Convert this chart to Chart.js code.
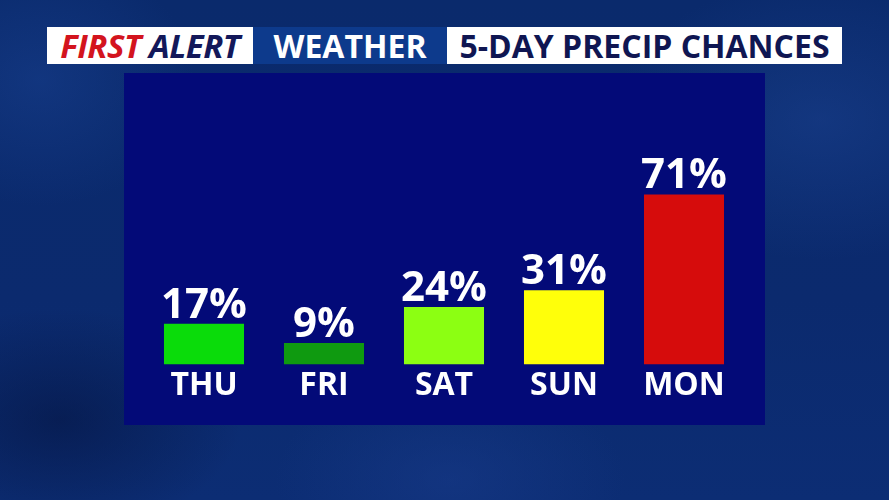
<!DOCTYPE html>
<html>
<head>
<meta charset="utf-8">
<script src="https://cdn.jsdelivr.net/npm/chart.js@4"></script>
<style>
  html, body { margin: 0; padding: 0; }
  body {
    width: 889px; height: 500px; overflow: hidden; position: relative;
    font-family: "Open Sans", "Noto Sans", sans-serif;
    background:
      radial-gradient(ellipse 260px 160px at 60px 420px, rgba(4,18,60,0.55), rgba(4,18,60,0) 70%),
      radial-gradient(ellipse 300px 200px at 820px 120px, rgba(30,70,150,0.45), rgba(30,70,150,0) 70%),
      radial-gradient(ellipse 250px 150px at 450px 480px, rgba(25,60,140,0.5), rgba(25,60,140,0) 70%),
      radial-gradient(ellipse 220px 180px at 40px 80px, rgba(25,65,145,0.5), rgba(25,65,145,0) 70%),
      linear-gradient(180deg, #0a2a6c 0%, #0b2a6e 60%, #0c2d74 100%);
  }
  .hdr { position: absolute; top: 27px; height: 37px; display: flex; align-items: center;
         font-weight: 700; font-size: 32px; white-space: nowrap; }
  #fa { left: 47px; width: 206px; background: #fff; justify-content: center; font-style: italic; font-size: 33px; letter-spacing: -0.5px; }
  #fa .r { color: #d3141e; margin-right: 8px; }
  #fa .n { color: #13185a; }
  #wx { left: 253px; width: 194px; background: #0d3a8c; color: #fff; justify-content: center; }
  #pc { left: 447px; width: 395px; background: #fff; color: #0f1652; justify-content: center; }
  #panel { position: absolute; left: 124px; top: 73px; width: 641px; height: 352px; background: #030a78; }
</style>
</head>
<body>
<div class="hdr" id="fa"><span class="r">FIRST</span><span class="n">ALERT</span></div>
<div class="hdr" id="wx">WEATHER</div>
<div class="hdr" id="pc">5-DAY PRECIP CHANCES</div>
<div id="panel"><canvas id="precipChart" width="641" height="352"></canvas></div>
<script>
// data
var days = ["THU", "FRI", "SAT", "SUN", "MON"];
var chances = [17, 9, 24, 31, 71];
var barColors = ["#0adc0a", "#0f9a10", "#8cff12", "#ffff0a", "#d60c0c"];

// percent labels above each bar
var valueLabels = {
    id: 'valueLabels',
    afterDatasetsDraw: function(chart) {
        var ctx = chart.ctx;
        var meta = chart.getDatasetMeta(0);
        ctx.save();
        ctx.fillStyle = '#ffffff';
        ctx.font = 'bold 42px "Open Sans"';
        ctx.textAlign = 'center';
        ctx.textBaseline = 'alphabetic';
        meta.data.forEach(function(bar, i) {
            ctx.fillText(chances[i] + '%', bar.x, bar.y - 6);
        });
        ctx.restore();
    }
};

var ctxB = document.getElementById("precipChart").getContext('2d');
var myBarChart = new Chart(ctxB, {
    type: 'bar',
    data: {
        labels: days,
        datasets: [{
            label: "Precip chance",
            data: chances,
            backgroundColor: barColors,
            borderWidth: 0,
            categoryPercentage: 0.667,
            barPercentage: 1.0
        }]
    },
    options: {
        responsive: false,
        animation: false,
        layout: { padding: { left: 20, right: 21, top: 52, bottom: 18 } },
        plugins: { legend: { display: false }, tooltip: { enabled: false } },
        scales: {
            x: {
                grid: { display: false, drawTicks: false },
                border: { display: false },
                ticks: { color: '#ffffff', font: { family: 'Open Sans', weight: 'bold', size: 32 }, padding: 2 }
            },
            y: {
                display: false,
                min: 0,
                max: 100
            }
        }
    },
    plugins: [valueLabels]
});
</script>
</body>
</html>
